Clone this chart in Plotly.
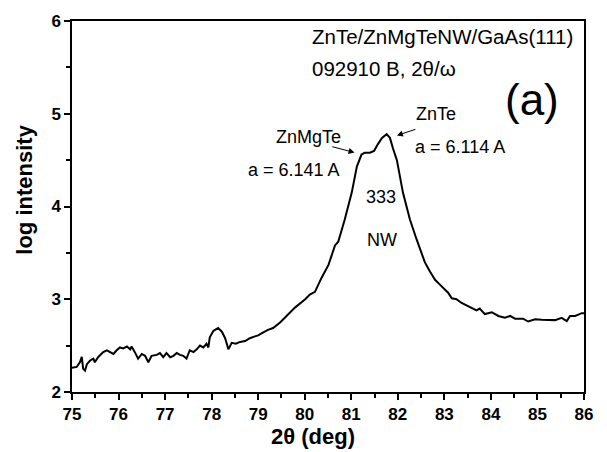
import plotly.graph_objects as go

two_theta = [75.00, 75.10, 75.17, 75.21, 75.24, 75.28, 75.32, 75.39, 75.46, 75.49, 75.56, 75.64, 75.67,
             75.75, 75.82, 75.89, 75.96, 76.03, 76.10, 76.18, 76.25, 76.28, 76.35, 76.42, 76.50, 76.57,
             76.64, 76.71, 76.82, 76.89, 76.96, 77.03, 77.11, 77.18, 77.25, 77.32, 77.39, 77.46, 77.53,
             77.61, 77.68, 77.75, 77.82, 77.89, 77.93, 77.96, 78.04, 78.14, 78.22, 78.29, 78.36, 78.43,
             78.52, 78.61, 78.72, 78.82, 78.93, 79.00, 79.10, 79.21, 79.32, 79.47, 79.61, 79.79, 80.01,
             80.11, 80.22, 80.36, 80.51, 80.65, 80.72, 80.86, 81.01, 81.12, 81.22, 81.29, 81.40, 81.49,
             81.57, 81.66, 81.76, 81.83, 81.90, 81.98, 82.11, 82.26, 82.40, 82.48, 82.51, 82.58, 82.69,
             82.80, 82.91, 83.01, 83.08, 83.16, 83.26, 83.37, 83.48, 83.59, 83.69, 83.76, 83.87, 84.02,
             84.16, 84.30, 84.41, 84.52, 84.69, 84.80, 84.95, 85.09, 85.23, 85.38, 85.52, 85.63, 85.70,
             85.81, 85.88, 85.95, 86.00]
log_intensity = [2.26, 2.27, 2.32, 2.38, 2.25, 2.23, 2.30, 2.34, 2.36, 2.32, 2.375, 2.41, 2.43,
                 2.45, 2.43, 2.41, 2.45, 2.48, 2.47, 2.49, 2.46, 2.49, 2.43, 2.36, 2.41, 2.39,
                 2.32, 2.39, 2.40, 2.42, 2.375, 2.42, 2.375, 2.39, 2.42, 2.40, 2.39, 2.36, 2.45,
                 2.43, 2.46, 2.50, 2.48, 2.52, 2.48, 2.59, 2.66, 2.69, 2.65, 2.58, 2.46, 2.53,
                 2.52, 2.54, 2.55, 2.58, 2.60, 2.61, 2.64, 2.67, 2.69, 2.75, 2.82, 2.91, 3.00,
                 3.05, 3.08, 3.23, 3.37, 3.58, 3.62, 3.86, 4.15, 4.43, 4.56, 4.58, 4.58, 4.60,
                 4.67, 4.74, 4.78, 4.74, 4.62, 4.50, 4.15, 3.86, 3.65, 3.54, 3.51, 3.40, 3.30,
                 3.21, 3.155, 3.11, 3.07, 3.01, 3.00, 2.96, 2.935, 2.91, 2.88, 2.90, 2.84, 2.86,
                 2.82, 2.80, 2.82, 2.79, 2.79, 2.76, 2.785, 2.78, 2.78, 2.775, 2.80, 2.765, 2.82,
                 2.82, 2.835, 2.85, 2.85]

x_ticks = [75, 76, 77, 78, 79, 80, 81, 82, 83, 84, 85, 86]
y_ticks = [2, 3, 4, 5, 6]

FONT = "Liberation Sans, Arial, sans-serif"

fig = go.Figure()
fig.add_trace(go.Scatter(x=two_theta, y=log_intensity, mode="lines",
                         line=dict(color="black", width=2), showlegend=False))

axis_common = dict(showline=True, linecolor="black", linewidth=1.5, mirror=True,
                   ticks="outside", ticklen=6, tickwidth=1.5, tickcolor="black",
                   showgrid=False, zeroline=False,
                   tickfont=dict(family=FONT, size=17, color="black", weight="bold"))

fig.update_xaxes(range=[75, 86], tickvals=x_ticks,
                 minor=dict(dtick=0.5, ticks="outside", ticklen=4, tickwidth=1.5, tickcolor="black"),
                 **axis_common)
fig.update_yaxes(range=[2, 6], tickvals=y_ticks,
                 minor=dict(dtick=0.5, ticks="outside", ticklen=4, tickwidth=1.5, tickcolor="black"),
                 **axis_common)

def txt(x, y, s, size=18, xanchor="center"):
    fig.add_annotation(x=x, y=y, text=s, showarrow=False, xanchor=xanchor, yanchor="middle",
                       font=dict(family=FONT, size=size, color="black"))

txt(80.11, 5.836, "ZnTe/ZnMgTeNW/GaAs(111)", 20.5, "left")
txt(80.11, 5.486, "092910 B, 2θ/ω", 20.5, "left")
txt(84.88, 5.156, "(a)", 44)
txt(82.82, 4.997, "ZnTe")
txt(82.33, 4.646, "a = 6.114 A", 18, "left")
txt(80.09, 4.752, "ZnMgTe")
txt(79.77, 4.391, "a = 6.141 A")
txt(81.64, 4.104, "333")
txt(81.66, 3.637, "NW")

for (tx, ty, hx, hy) in [(80.56, 4.649, 81.07, 4.582), (82.41, 4.837, 81.98, 4.766)]:
    fig.add_annotation(x=hx, y=hy, ax=tx, ay=ty, axref="x", ayref="y", xref="x", yref="y",
                       text="", showarrow=True, arrowhead=2, arrowsize=1.2, arrowwidth=1,
                       arrowcolor="black")

fig.add_annotation(xref="paper", yref="paper", x=0.4707, y=-0.1188, text="2θ (deg)",
                   showarrow=False, xanchor="center", yanchor="middle",
                   font=dict(family=FONT, size=22, color="black", weight="bold"))
fig.add_annotation(xref="paper", yref="paper", x=-0.092, y=0.545, text="log intensity",
                   showarrow=False, textangle=-90, xanchor="center", yanchor="middle",
                   font=dict(family=FONT, size=22, color="black", weight="bold"))

fig.update_layout(width=607, height=452, margin=dict(l=72, r=23, t=16, b=60),
                  plot_bgcolor="white", paper_bgcolor="white")
fig.write_html("out.html", config={"displayModeBar": False},
               post_script="document.body.style.margin='0';document.body.style.overflow='hidden';")
